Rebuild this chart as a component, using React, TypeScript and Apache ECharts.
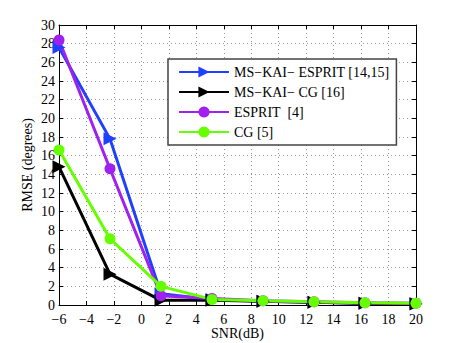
import React, { useEffect, useRef } from "react";
import * as echarts from "echarts";

const snr = [-6, -2.286, 1.429, 5.143, 8.857, 12.571, 16.286, 20];
const msKaiEsprit = [27.6, 17.8, 1.2, 0.6, 0.4, 0.3, 0.2, 0.15];
const msKaiCg = [14.8, 3.3, 0.5, 0.5, 0.4, 0.3, 0.2, 0.1];
const esprit = [28.4, 14.6, 1.0, 0.7, 0.45, 0.35, 0.25, 0.2];
const cg = [16.6, 7.1, 2.0, 0.6, 0.45, 0.35, 0.25, 0.2];
const seriesNames = ["MS−KAI− ESPRIT [14,15]", "MS−KAI− CG [16]", "ESPRIT  [4]", "CG [5]"];
const colors = ["#2040ff", "#000000", "#a020f0", "#66ff00"];

const font = "'Liberation Serif', 'Times New Roman', serif";

function pairs(ys: number[]) {
  return snr.map((x, i) => [x, ys[i]]);
}

export default function App() {
  const ref = useRef<HTMLDivElement>(null);
  useEffect(() => {
    const chart = echarts.init(ref.current!, undefined, { renderer: "svg" });
    const minus = (v: number) => String(v).replace("-", "−");
    const axisCommon = {
      axisLine: { show: true, onZero: false, lineStyle: { color: "#000", width: 1 } },
      axisTick: { show: true, inside: true, length: 4, lineStyle: { color: "#000" } },
    };
    const mk = (name: string, data: number[], color: string, sym: string, size: number, rot: number) => ({
      type: "line",
      name,
      data: pairs(data),
      symbol: sym,
      symbolSize: size,
      symbolRotate: rot,
      showAllSymbol: true,
      lineStyle: { color, width: 3 },
      itemStyle: { color },
      z: 3,
    });
    chart.setOption({
      animation: false,
      color: colors,
      textStyle: { fontFamily: font },
      grid: { left: 59, right: 42, top: 25, bottom: 38, containLabel: false, outerBoundsMode: "none" },
      legend: {
        orient: "vertical",
        left: 168,
        top: 59,
        backgroundColor: "#fff",
        borderColor: "#444",
        borderWidth: 1.5,
        borderRadius: 0,
        padding: [6, 7, 6, 10],
        itemWidth: 50,
        itemHeight: 14,
        itemGap: 6,
        textStyle: { fontFamily: font, fontSize: 14, color: "#000", width: 160, overflow: "none" },
        data: seriesNames,
      },
      xAxis: [
        {
          type: "value",
          min: -6,
          max: 20,
          interval: 2,
          name: "SNR(dB)",
          nameLocation: "middle",
          nameGap: 21,
          nameMoveOverlap: false,
          nameTextStyle: { fontFamily: font, fontSize: 14, color: "#000" },
          axisLabel: { fontFamily: font, fontSize: 14, color: "#000", margin: 7, formatter: minus },
          splitLine: { show: true, lineStyle: { color: "#999", type: [1, 3], width: 1 } },
          ...axisCommon,
        },
        {
          type: "value",
          position: "top",
          min: -6,
          max: 20,
          interval: 2,
          axisLabel: { show: false },
          splitLine: { show: false },
          ...axisCommon,
        },
      ],
      yAxis: [
        {
          type: "value",
          min: 0,
          max: 30,
          interval: 2,
          name: "RMSE (degrees)",
          nameLocation: "middle",
          nameGap: 25,
          nameMoveOverlap: false,
          nameTextStyle: { fontFamily: font, fontSize: 14, color: "#000" },
          axisLabel: { fontFamily: font, fontSize: 14, color: "#000", margin: 4, formatter: minus },
          splitLine: { show: true, lineStyle: { color: "#999", type: [1, 3], width: 1 } },
          ...axisCommon,
        },
        {
          type: "value",
          position: "right",
          min: 0,
          max: 30,
          interval: 2,
          axisLabel: { show: false },
          splitLine: { show: false },
          ...axisCommon,
        },
      ],
      series: [
        mk(seriesNames[0], msKaiEsprit, colors[0], "triangle", 13, -90),
        mk(seriesNames[1], msKaiCg, colors[1], "triangle", 13, -90),
        mk(seriesNames[2], esprit, colors[2], "circle", 11, 0),
        mk(seriesNames[3], cg, colors[3], "circle", 11, 0),
      ],
    });
    return () => chart.dispose();
  }, []);
  return <div ref={ref} style={{ width: 458, height: 343, position: "absolute", left: 0, top: 0, background: "#fff" }} />;
}
